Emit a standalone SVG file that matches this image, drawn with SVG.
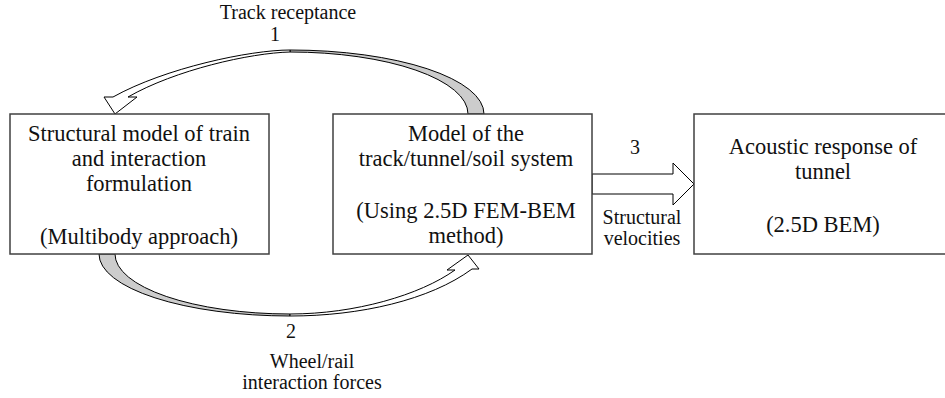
<svg xmlns="http://www.w3.org/2000/svg" width="945" height="398" viewBox="0 0 945 398">
<style>
.box{fill:#fff;stroke:#404040;stroke-width:1.5}
.t{font-family:"Liberation Serif","Times New Roman",serif;font-size:22.5px;fill:#111;text-anchor:middle}
.l{font-family:"Liberation Serif","Times New Roman",serif;font-size:20px;fill:#111;text-anchor:middle}
.arw{fill:#fff;stroke:#000;stroke-width:1;stroke-linejoin:miter}
.shade{fill:#cccccc;stroke:#000;stroke-width:1}
</style>
<rect width="945" height="398" fill="#fff"/>
<g id="connectors">
  <g id="arrow1">
    <path class="shade" d="M290,50 A194,64 0 0 1 484,114 L468,114 A178,62 0 0 0 290,52 Z"/>
    <path class="arw" d="M290,50 C250,50 165,68 113,97 L104,97 L115,114 L137,97 L128,97 C175,70 250,53 290,52 Z"/>
  </g>
  <g id="arrow2">
    <path class="shade" d="M99,254 A191,62 0 0 0 290,316 L290,314 A175,60 0 0 1 115,254 Z"/>
    <path class="arw" d="M290,316 C360,316 430,300 472,269 L479,269 L468,255 L447,270 L455,270 C420,295 355,314 290,314 Z"/>
  </g>
  <g id="arrow3">
    <polygon class="arw" points="592,174 673,174 673,163 694,184 673,205 673,194 592,194"/>
  </g>
  <g id="labels">
    <text class="l" x="288" y="19">Track receptance</text>
    <text class="l" x="275" y="41">1</text>
    <text class="l" x="291" y="338">2</text>
    <text class="l" x="312" y="368">Wheel/rail</text>
    <text class="l" x="312" y="389">interaction forces</text>
    <text class="l" x="635" y="154">3</text>
    <text class="l" x="642" y="224">Structural</text>
    <text class="l" x="642" y="245">velocities</text>
  </g>
</g>
<g id="node-train">
  <rect class="box" x="10" y="114" width="259" height="140"/>
  <text class="t" x="139" y="141">Structural model of train</text>
  <text class="t" x="139" y="166">and interaction</text>
  <text class="t" x="139" y="191">formulation</text>
  <text class="t" x="139" y="244">(Multibody approach)</text>
</g>
<g id="node-track">
  <rect class="box" x="333" y="114" width="259" height="140"/>
  <text class="t" x="466" y="141">Model of the</text>
  <text class="t" x="466" y="166">track/tunnel/soil system</text>
  <text class="t" x="466" y="218">(Using 2.5D FEM-BEM</text>
  <text class="t" x="466" y="243">method)</text>
</g>
<g id="node-acoustic">
  <rect class="box" x="694" y="114" width="252" height="140"/>
  <text class="t" x="823" y="154">Acoustic response of</text>
  <text class="t" x="823" y="179">tunnel</text>
  <text class="t" x="823" y="232">(2.5D BEM)</text>
</g>
</svg>
